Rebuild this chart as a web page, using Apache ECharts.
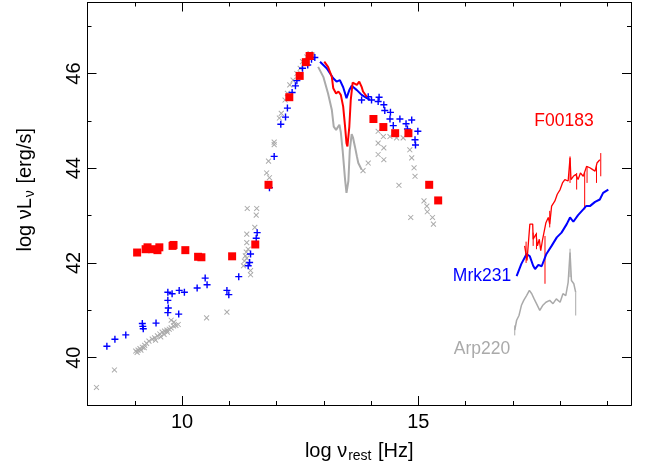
<!DOCTYPE html>
<html><head><meta charset="utf-8">
<script src="https://cdn.jsdelivr.net/npm/echarts@6/dist/echarts.min.js"></script>
<style>html,body{margin:0;padding:0;background:#fff}#c{width:647px;height:468px}</style>
</head><body><div id="c"></div>
<script>
const FONT = "'Liberation Sans', Arial, Helvetica, sans-serif";

// tick values
const xMajorTicks = [10, 15];
const xMinorTicks = [9, 11, 12, 13, 14, 16, 17, 18, 19];
const yMajorTicks = [40, 42, 44, 46];
const yMinorTicks = [41, 43, 45, 47];

// F00183 photometry (red squares)
const f00183Phot = [[9.05,42.22],[9.23,42.29],[9.27,42.33],[9.37,42.29],[9.48,42.27],[9.52,42.33],[9.80,42.36],[9.82,42.38],[10.07,42.27],[10.34,42.13],[10.41,42.12],[11.06,42.14],[11.55,42.39],[11.83,43.65],[12.27,45.50],[12.49,45.95],[12.62,46.24],[12.70,46.37],[14.05,45.04],[14.26,44.87],[14.51,44.74],[14.79,44.74],[15.23,43.65],[15.42,43.32]];

// Mrk231 photometry (blue plus)
const mrk231Phot = [[8.41,40.24],[8.58,40.39],[8.81,40.48],[9.16,40.72],[9.17,40.66],[9.18,40.61],[9.45,40.73],[9.70,41.38],[9.79,41.35],[9.70,41.21],[9.71,41.05],[9.70,40.95],[9.93,40.92],[9.94,41.42],[10.05,41.38],[10.32,41.47],[10.49,41.68],[10.53,41.54],[10.95,41.42],[10.99,41.33],[11.20,41.71],[11.40,41.94],[11.43,42.01],[11.45,42.19],[11.57,42.52],[11.59,42.64],[11.85,43.59],[11.95,44.25],[12.09,44.93],[12.19,45.08],[12.23,45.27],[12.33,45.60],[12.40,45.74],[12.43,45.85],[12.55,46.11],[12.66,46.18],[12.74,46.30],[12.81,46.34],[13.80,45.44],[13.94,45.51],[14.01,45.44],[14.17,45.50],[14.15,45.41],[14.27,45.34],[14.29,45.22],[14.41,45.18],[14.40,45.04],[14.47,44.90],[14.61,45.04],[14.74,44.94],[14.86,45.02],[14.77,44.83],[14.93,44.60],[14.94,44.49],[14.99,44.78]];

// Arp220 photometry (grey cross)
const arp220Phot = [[8.19,39.37],[8.57,39.74],[9.02,40.14],[9.05,40.11],[9.07,40.16],[9.11,40.19],[9.13,40.16],[9.16,40.22],[9.20,40.21],[9.21,40.26],[9.25,40.30],[9.30,40.35],[9.37,40.39],[9.42,40.42],[9.44,40.37],[9.48,40.46],[9.53,40.50],[9.55,40.44],[9.58,40.54],[9.62,40.49],[9.63,40.56],[9.68,40.58],[9.69,40.54],[9.73,40.60],[9.77,40.63],[9.77,40.79],[9.82,40.67],[9.83,40.75],[9.87,40.68],[9.92,40.70],[10.52,40.84],[10.95,40.96],[11.30,41.94],[11.32,42.04],[11.34,42.15],[11.36,42.23],[11.37,42.10],[11.40,42.29],[11.37,42.43],[11.37,42.61],[11.45,41.84],[11.45,41.75],[11.54,42.75],[11.57,43.01],[11.38,43.15],[11.58,43.15],[11.79,43.90],[11.85,43.80],[11.83,44.15],[11.95,44.50],[11.95,44.55],[12.06,45.06],[12.10,45.16],[12.18,45.44],[12.23,45.58],[12.28,45.76],[12.35,45.86],[12.43,46.00],[12.50,46.11],[12.55,46.25],[12.64,46.35],[12.71,46.42],[12.76,46.39],[13.83,43.95],[13.94,44.11],[14.15,44.78],[14.15,44.53],[14.15,44.29],[14.26,44.67],[14.27,44.43],[14.27,44.18],[14.40,44.67],[14.54,44.64],[14.68,44.64],[14.59,43.64],[14.82,44.39],[14.86,44.22],[14.91,44.01],[14.93,43.83],[14.84,42.96],[15.12,43.31],[15.18,43.20],[15.19,43.08],[15.30,42.96],[15.32,42.82]];

// mid-IR spectra
const mrk231IRS = [[12.92,46.25],[13.06,46.11],[13.20,45.90],[13.27,45.83],[13.34,45.86],[13.41,45.71],[13.45,45.58],[13.48,45.48],[13.54,45.65],[13.59,45.74],[13.70,45.65],[13.80,45.55],[13.91,45.48],[13.98,45.45]];
const f00183IRS = [[13.01,46.25],[13.09,46.14],[13.17,45.93],[13.20,45.69],[13.26,45.58],[13.31,45.62],[13.36,45.55],[13.41,45.30],[13.45,44.88],[13.48,44.53],[13.50,44.46],[13.54,44.88],[13.57,45.44],[13.61,45.81],[13.70,45.76],[13.75,45.83],[13.80,45.72],[13.83,45.62],[13.87,45.65],[13.91,45.51]];
const arp220IRS = [[12.88,46.14],[12.99,45.93],[13.09,45.58],[13.17,45.23],[13.21,44.88],[13.26,44.81],[13.33,44.92],[13.36,44.76],[13.40,44.36],[13.45,43.76],[13.48,43.48],[13.52,43.73],[13.55,44.39],[13.59,44.72],[13.62,44.64],[13.66,44.45],[13.70,44.25],[13.73,44.11],[13.80,43.97]];

// X-ray spectra
const mrk231Xray = [[17.08,41.72],[17.18,41.98],[17.29,42.19],[17.36,42.14],[17.43,41.94],[17.47,41.87],[17.54,41.96],[17.61,41.93],[17.71,42.19],[17.82,42.36],[17.93,42.54],[18.03,42.64],[18.14,42.82],[18.21,42.96],[18.28,42.87],[18.38,43.01],[18.49,43.13],[18.55,43.20],[18.63,43.20],[18.74,43.29],[18.84,43.34],[18.91,43.48],[19.02,43.55]];
const f00183Xray = [[17.25,42.36],[17.30,42.05],[17.36,42.82],[17.42,42.82],[17.43,42.50],[17.49,42.61],[17.52,42.36],[17.56,42.50],[17.59,42.26],[17.63,42.50],[17.70,42.85],[17.75,42.96],[17.78,42.82],[17.82,43.20],[17.89,43.31],[17.94,43.45],[18.00,43.55],[18.05,43.69],[18.10,43.76],[18.17,43.73],[18.21,44.22],[18.23,43.76],[18.28,43.83],[18.33,43.87],[18.38,43.76],[18.43,43.90],[18.49,43.83],[18.56,44.04],[18.63,44.01],[18.69,43.97],[18.74,43.94],[18.78,44.11],[18.84,44.18]];
const arp220Xray = [[17.04,40.58],[17.08,40.79],[17.13,40.89],[17.18,41.10],[17.23,41.21],[17.29,41.31],[17.35,41.42],[17.40,41.35],[17.45,41.24],[17.50,41.14],[17.57,41.00],[17.63,41.10],[17.70,41.17],[17.78,41.21],[17.85,41.14],[17.92,41.24],[18.00,41.17],[18.06,41.35],[18.12,41.31],[18.17,41.59],[18.21,42.22],[18.24,41.63],[18.29,41.56],[18.33,41.38]];
// error bars [x, low, high]
const f00183XrayErr = [[17.28,42.00,42.45],[17.43,42.36,42.64],[17.50,42.29,42.64],[17.68,41.56,42.57],[17.78,42.75,43.10],[18.21,43.69,44.25],[18.35,43.55,43.90],[18.52,43.13,43.90],[18.57,43.69,44.04],[18.77,43.69,44.08],[18.86,43.83,44.32]];
const arp220XrayErr = [[17.04,40.47,40.68],[18.33,40.89,41.38],[18.21,41.70,42.30]];

const RED = '#ff0000', BLUE = '#0000ff', GREY = '#aaaaaa';
const PLUS = 'path://M0,4H10V6H0Z M4,0H6V10H4Z';
const THINPLUS = 'path://M0,4.3H10V5.7H0Z M4.3,0H5.7V10H4.3Z';

function xAx(pos, ticks, len, labels, extra) {
  return Object.assign({
    type: 'value', min: 8, max: 19.5, interval: 1, position: pos,
    axisLine: {show: true, onZero: false, lineStyle: {color: '#000', width: 1}},
    axisTick: {show: true, inside: true, length: len, customValues: ticks, lineStyle: {color: '#000', width: 1}},
    axisLabel: labels ? {show: true, customValues: xMajorTicks, fontSize: 20, fontFamily: FONT, color: '#000', margin: 7} : {show: false},
    splitLine: {show: false}
  }, extra || {});
}
function yAx(pos, ticks, len, labels, extra) {
  return Object.assign({
    type: 'value', min: 39, max: 47.5, interval: 1, position: pos,
    axisLine: {show: true, onZero: false, lineStyle: {color: '#000', width: 1}},
    axisTick: {show: true, inside: true, length: len, customValues: ticks, lineStyle: {color: '#000', width: 1}},
    axisLabel: labels ? {show: true, customValues: yMajorTicks, rotate: 90, fontSize: 20, fontFamily: FONT, color: '#000', margin: 3} : {show: false},
    splitLine: {show: false}
  }, extra || {});
}

const subRich = {
  a: {fontSize: 20, fontFamily: FONT, color: '#000', lineHeight: 24},
  s: {fontSize: 14, fontFamily: FONT, color: '#000', lineHeight: 8, verticalAlign: 'bottom', padding: [0, 1, 0, 1]}
};

function errSeries(data, color) {
  return {
    type: 'custom', data: data, encode: {x: 0, y: [1, 2]}, silent: true,
    renderItem: function (params, api) {
      const x = api.value(0);
      const lo = api.coord([x, api.value(1)]);
      const hi = api.coord([x, api.value(2)]);
      return {type: 'line', shape: {x1: lo[0], y1: lo[1], x2: hi[0], y2: hi[1]}, style: {stroke: color, lineWidth: 1}};
    }
  };
}

const chart = echarts.init(document.getElementById('c'), null, {renderer: 'canvas'});
chart.setOption({
  animation: false,
  backgroundColor: '#fff',
  grid: {left: 87.5, right: 16, top: 2.5, bottom: 62.5, containLabel: false},
  xAxis: [
    xAx('bottom', xMajorTicks, 9, true, {
      name: '{a|log ν}{s|rest}{a| [Hz]}', nameLocation: 'middle', nameGap: 34,
      nameTextStyle: {rich: subRich}
    }),
    xAx('bottom', xMinorTicks, 4, false),
    xAx('top', xMajorTicks, 9, false),
    xAx('top', xMinorTicks, 4, false)
  ],
  yAxis: [
    yAx('left', yMajorTicks, 9, true, {
      name: '{a|log νL}{s|ν}{a| [erg/s]}', nameLocation: 'middle', nameRotate: 90, nameGap: 50,
      nameTextStyle: {rich: subRich, padding: [0, 0, 0, 28]}
    }),
    yAx('left', yMinorTicks, 4, false),
    yAx('right', yMajorTicks, 9, false),
    yAx('right', yMinorTicks, 4, false)
  ],
  series: [
    {type: 'scatter', data: arp220Phot, symbol: THINPLUS, symbolRotate: 45, symbolSize: 7, itemStyle: {color: GREY, opacity: 1}},
    {type: 'line', data: arp220IRS, showSymbol: false, lineStyle: {color: GREY, width: 2}},
    {type: 'line', data: arp220Xray, showSymbol: false, lineStyle: {color: GREY, width: 1.5}},
    errSeries(arp220XrayErr, GREY),
    {type: 'scatter', data: mrk231Phot, symbol: PLUS, symbolSize: 7, itemStyle: {color: BLUE, opacity: 1}},
    {type: 'line', data: mrk231IRS, showSymbol: false, lineStyle: {color: BLUE, width: 2}},
    {type: 'line', data: mrk231Xray, showSymbol: false, lineStyle: {color: BLUE, width: 2}},
    {type: 'line', data: f00183IRS, showSymbol: false, lineStyle: {color: RED, width: 2}},
    {type: 'line', data: f00183Xray, showSymbol: false, lineStyle: {color: RED, width: 1.3}},
    errSeries(f00183XrayErr, RED),
    {type: 'scatter', data: f00183Phot, symbol: 'rect', symbolSize: 8, itemStyle: {color: RED, opacity: 1}}
  ],
  graphic: [
    {type: 'text', x: 564, y: 121, style: {text: 'F00183', fill: RED, fontSize: 17.5, fontFamily: FONT, align: 'center', verticalAlign: 'middle', textAlign: 'center', textVerticalAlign: 'middle'}},
    {type: 'text', x: 482, y: 276, style: {text: 'Mrk231', fill: BLUE, fontSize: 17.5, fontFamily: FONT, align: 'center', verticalAlign: 'middle', textAlign: 'center', textVerticalAlign: 'middle'}},
    {type: 'text', x: 482, y: 349, style: {text: 'Arp220', fill: GREY, fontSize: 17.5, fontFamily: FONT, align: 'center', verticalAlign: 'middle', textAlign: 'center', textVerticalAlign: 'middle'}}
  ]
});
</script>
</body></html>
